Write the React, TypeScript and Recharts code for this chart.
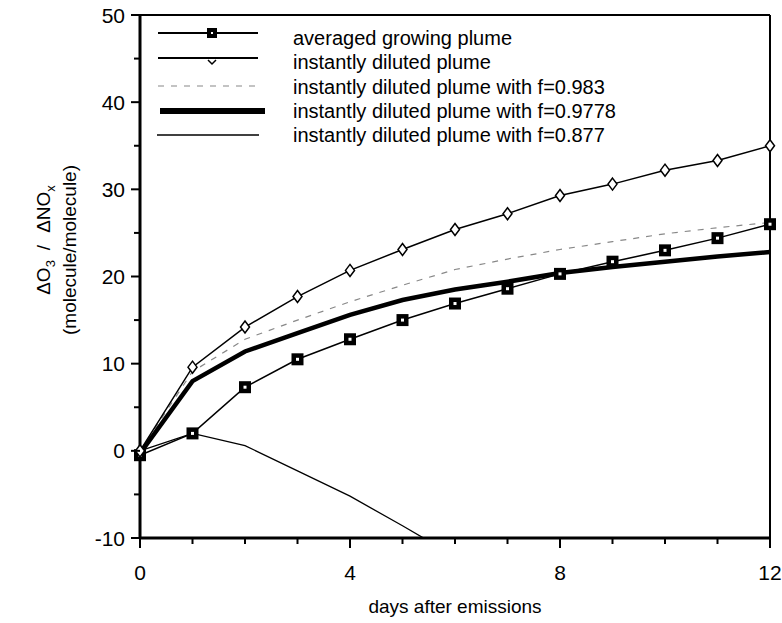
import React from 'react';
import {
  LineChart,
  Line,
  XAxis,
  YAxis,
  Legend,
  Label,
  ReferenceLine,
} from 'recharts';

const days = [0, 1, 2, 3, 4, 5, 6, 7, 8, 9, 10, 11, 12];
const averagedGrowing = [-0.5, 2.0, 7.3, 10.5, 12.8, 15.0, 16.9, 18.6, 20.3, 21.7, 23.0, 24.4, 26.0];
const instantlyDiluted = [0, 9.6, 14.2, 17.7, 20.7, 23.1, 25.4, 27.2, 29.3, 30.6, 32.2, 33.3, 35.0];
const diluted0983 = [0, 9.1, 12.8, 15.0, 17.1, 19.0, 20.8, 22.0, 23.1, 24.0, 24.9, 25.6, 26.2];
const diluted09778 = [-0.3, 8.0, 11.4, 13.5, 15.6, 17.3, 18.5, 19.4, 20.4, 21.1, 21.7, 22.3, 22.8];
const diluted0877 = [0, 2.0, 0.6, -2.3, -5.2, -8.6, -12.1, null, null, null, null, null, null];

const xTicks = [0, 1, 2, 3, 4, 5, 6, 7, 8, 9, 10, 11, 12];
const yTicks = [-10, -5, 0, 5, 10, 15, 20, 25, 30, 35, 40, 45, 50];

const legendLabels = [
  'averaged growing plume',
  'instantly diluted plume',
  'instantly diluted plume with f=0.983',
  'instantly diluted plume with f=0.9778',
  'instantly diluted plume with f=0.877',
];

const FONT = 'Liberation Sans, Arial, Helvetica, sans-serif';

const data = days.map((d, i) => ({
  day: d,
  growing: averagedGrowing[i],
  diluted: instantlyDiluted[i],
  f0983: diluted0983[i],
  f09778: diluted09778[i],
  f0877: diluted0877[i],
}));

const SquareDot = (props: any) => {
  const { cx, cy, index } = props;
  if (cx == null || cy == null) return <g key={`s${index}`} />;
  return (
    <g key={`s${index}`}>
      <rect x={cx - 6} y={cy - 6} width={12} height={12} fill="#000" />
      <rect x={cx - 1.5} y={cy - 1.5} width={3} height={3} fill="#fff" />
    </g>
  );
};

const DiamondDot = (props: any) => {
  const { cx, cy, index } = props;
  if (cx == null || cy == null) return <g key={`d${index}`} />;
  return (
    <path
      key={`d${index}`}
      d={`M${cx},${cy - 6} L${cx + 4.5},${cy} L${cx},${cy + 6} L${cx - 4.5},${cy} Z`}
      fill="#fff"
      stroke="#000"
      strokeWidth={1.5}
    />
  );
};

const YTick = (props: any) => {
  const { x, y, payload } = props;
  const major = payload.value % 10 === 0;
  return (
    <g>
      <line x1={x - (major ? 9 : 6)} x2={x} y1={y} y2={y} stroke="#000" strokeWidth={2} />
      {major && (
        <text x={x - 15} y={y} textAnchor="end" dominantBaseline="central" fontSize={21} fontFamily={FONT} fill="#000">
          {payload.value}
        </text>
      )}
    </g>
  );
};

const XTick = (props: any) => {
  const { x, y, payload } = props;
  const major = payload.value % 4 === 0;
  return (
    <g>
      <line x1={x} x2={x} y1={y} y2={y + (major ? 10 : 6)} stroke="#000" strokeWidth={2} />
      {major && (
        <text x={x} y={y + 42} textAnchor="middle" fontSize={21} fontFamily={FONT} fill="#000">
          {payload.value}
        </text>
      )}
    </g>
  );
};

const renderYLabel = () => (
  <g fontFamily={FONT} fill="#000">
    <text transform="translate(50,240) rotate(-90)" textAnchor="middle" fontSize={19}>
      ΔO<tspan fontSize={13} dy={5}>3</tspan>
      <tspan dy={-5} dx={10}>/</tspan>
      <tspan dx={12}>ΔNO</tspan>
      <tspan fontSize={13} dy={5}>x</tspan>
    </text>
    <text transform="translate(76,250) rotate(-90)" textAnchor="middle" fontSize={19}>
      (molecule/molecule)
    </text>
  </g>
);

const renderXLabel = () => (
  <text x={455} y={613} textAnchor="middle" fontSize={19} fontFamily={FONT} fill="#000">
    days after emissions
  </text>
);

const renderLegend = () => {
  const rowY = [38, 62, 87, 111, 135];
  return (
    <svg width={520} height={150} style={{ display: 'block' }}>
      {/* averaged growing plume */}
      <line x1={18} x2={118} y1={rowY[0] - 5} y2={rowY[0] - 5} stroke="#000" strokeWidth={2} />
      <rect x={67} y={rowY[0] - 10} width={10} height={10} fill="#000" />
      <rect x={71} y={rowY[0] - 6} width={2} height={2} fill="#fff" />
      {/* instantly diluted plume */}
      <line x1={18} x2={118} y1={rowY[1] - 4} y2={rowY[1] - 4} stroke="#000" strokeWidth={2} />
      <path d={`M68,${rowY[1] - 2} L72,${rowY[1] + 2} L76,${rowY[1] - 2}`} fill="none" stroke="#000" strokeWidth={1.5} />
      {/* f=0.983 */}
      <line x1={18} x2={118} y1={rowY[2] - 1} y2={rowY[2] - 1} stroke="#888" strokeWidth={1.2} strokeDasharray="6 7" />
      {/* f=0.9778 */}
      <line x1={20} x2={125} y1={rowY[3]} y2={rowY[3]} stroke="#000" strokeWidth={6} />
      {/* f=0.877 */}
      <line x1={17} x2={119} y1={rowY[4]} y2={rowY[4]} stroke="#000" strokeWidth={1.6} />
      {legendLabels.map((t, i) => (
        <text key={t} x={153} y={rowY[i]} dominantBaseline="central" fontSize={20} fontFamily={FONT} fill="#000">
          {t}
        </text>
      ))}
    </svg>
  );
};

export default function App() {
  return (
    <div style={{ position: 'absolute', left: 0, top: 0, background: '#fff' }}>
      <LineChart
        width={782}
        height={623}
        data={data}
        margin={{ top: 15, right: 12, bottom: 0, left: 0 }}
      >
        <XAxis
          dataKey="day"
          type="number"
          domain={[0, 12]}
          ticks={xTicks}
          interval={0}
          height={85}
          tickSize={0}
          tickMargin={0}
          tickLine={false}
          axisLine={{ stroke: '#000', strokeWidth: 3 }}
          tick={<XTick />}
        >
          <Label content={renderXLabel} />
        </XAxis>
        <YAxis
          type="number"
          domain={[-10, 50]}
          ticks={yTicks}
          interval={0}
          allowDataOverflow
          width={140}
          tickSize={0}
          tickMargin={0}
          tickLine={false}
          axisLine={{ stroke: '#000', strokeWidth: 3 }}
          tick={<YTick />}
        >
          <Label content={renderYLabel} />
        </YAxis>
        <ReferenceLine y={50} stroke="#000" strokeWidth={2} />
        <ReferenceLine x={12} stroke="#000" strokeWidth={2} />
        <Legend
          layout="vertical"
          align="center"
          verticalAlign="middle"
          wrapperStyle={{ position: 'absolute', left: 140, top: 0, width: 520, height: 150 }}
          content={renderLegend}
        />
        <Line
          dataKey="f0877"
          stroke="#000"
          strokeWidth={1.3}
          dot={false}
          isAnimationActive={false}
          connectNulls={false}
        />
        <Line
          dataKey="f0983"
          stroke="#888"
          strokeWidth={1.2}
          strokeDasharray="6 7"
          dot={false}
          isAnimationActive={false}
        />
        <Line
          dataKey="f09778"
          stroke="#000"
          strokeWidth={4.5}
          dot={false}
          isAnimationActive={false}
        />
        <Line
          dataKey="growing"
          stroke="#000"
          strokeWidth={1.5}
          dot={<SquareDot />}
          isAnimationActive={false}
        />
        <Line
          dataKey="diluted"
          stroke="#000"
          strokeWidth={1.5}
          dot={<DiamondDot />}
          isAnimationActive={false}
        />
      </LineChart>
    </div>
  );
}
